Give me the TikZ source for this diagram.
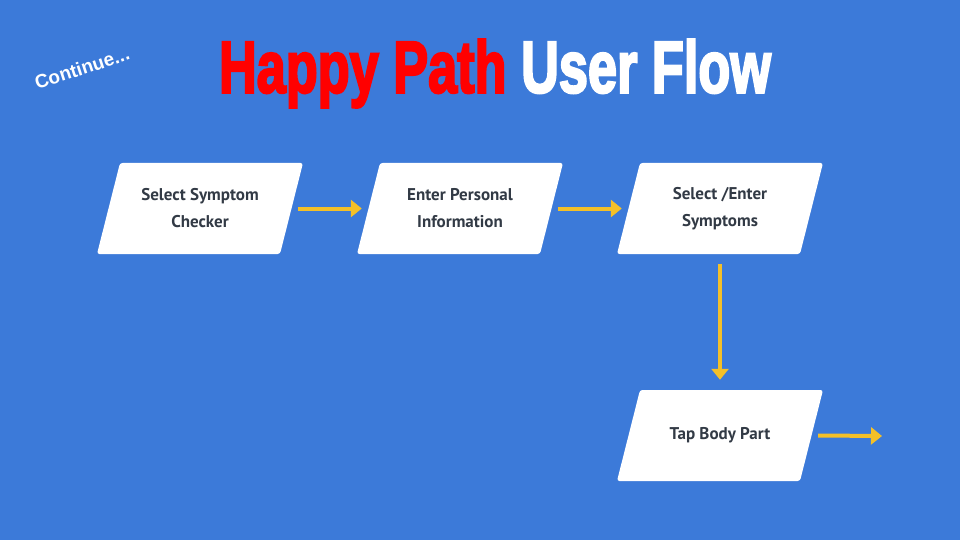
\documentclass[tikz,border=0pt]{standalone}
\usepackage{fontspec}
\usepackage{graphicx}
\setmainfont{PT Sans}
\newfontfamily\titlefont[FakeBold=3.5]{Liberation Sans Bold}
\newfontfamily\contfont{Liberation Sans}
\usetikzlibrary{calc,arrows.meta}
\definecolor{bgblue}{RGB}{60,122,217}
\definecolor{boxtext}{RGB}{50,58,69}
\definecolor{arrowyellow}{RGB}{244,192,40}
\definecolor{titlered}{RGB}{255,0,0}
\tikzset{
  boxlabel/.style={rectangle, minimum width=183pt, minimum height=91pt, inner sep=0pt,
    font=\fontsize{17}{27}\selectfont\bfseries, text=boxtext, align=center},
  boxfill/.style={fill=white, rounded corners=2.5pt},
  flowarrow/.style={draw=arrowyellow, line width=4pt,
    -{Triangle[length=11pt,width=17pt]}}
}
\newcommand{\flowbox}[3]{%
  \fill[boxfill] ($(#2)+(-80,-45.5)$) -- ($(#2)+(103,-45.5)$) -- ($(#2)+(80,45.5)$) -- ($(#2)+(-103,45.5)$) -- cycle;
  \node[boxlabel] (#1) at (#2) {#3};
}
\begin{document}
\begin{tikzpicture}[x=1pt,y=-1pt]
\fill[bgblue] (0,0) rectangle (960,540);
\useasboundingbox (0,0) rectangle (960,540);
\node[anchor=base, inner sep=0pt] (title) at (495,92.5)
  {\resizebox{552pt}{53pt}{\titlefont\textcolor{titlered}{Happy Path} \textcolor{white}{User Flow}}};
\node[rotate=18, text=white, inner sep=0pt, font=\contfont\bfseries\fontsize{19}{21}\selectfont] (cont) at (82,68) {Continue...};
\flowbox{b1}{200,208.5}{Select Symptom\\Checker}
\flowbox{b2}{460,208.5}{Enter Personal\\Information}
\flowbox{b3}{720,208.5}{Select /Enter\\Symptoms}
\flowbox{b4}{720,435.5}{Tap Body Part}
\coordinate (end) at (882,436);
\draw[flowarrow] ([xshift=6.5pt]b1.east) -- ([xshift=-6.5pt]b2.west);
\draw[flowarrow] ([xshift=6.5pt]b2.east) -- ([xshift=-6.5pt]b3.west);
\draw[flowarrow] ([yshift=-10pt]b3.south) -- ([yshift=10pt]b4.north);
\draw[flowarrow] ([xshift=6.5pt]b4.east) -- (end);
\end{tikzpicture}
\end{document}
